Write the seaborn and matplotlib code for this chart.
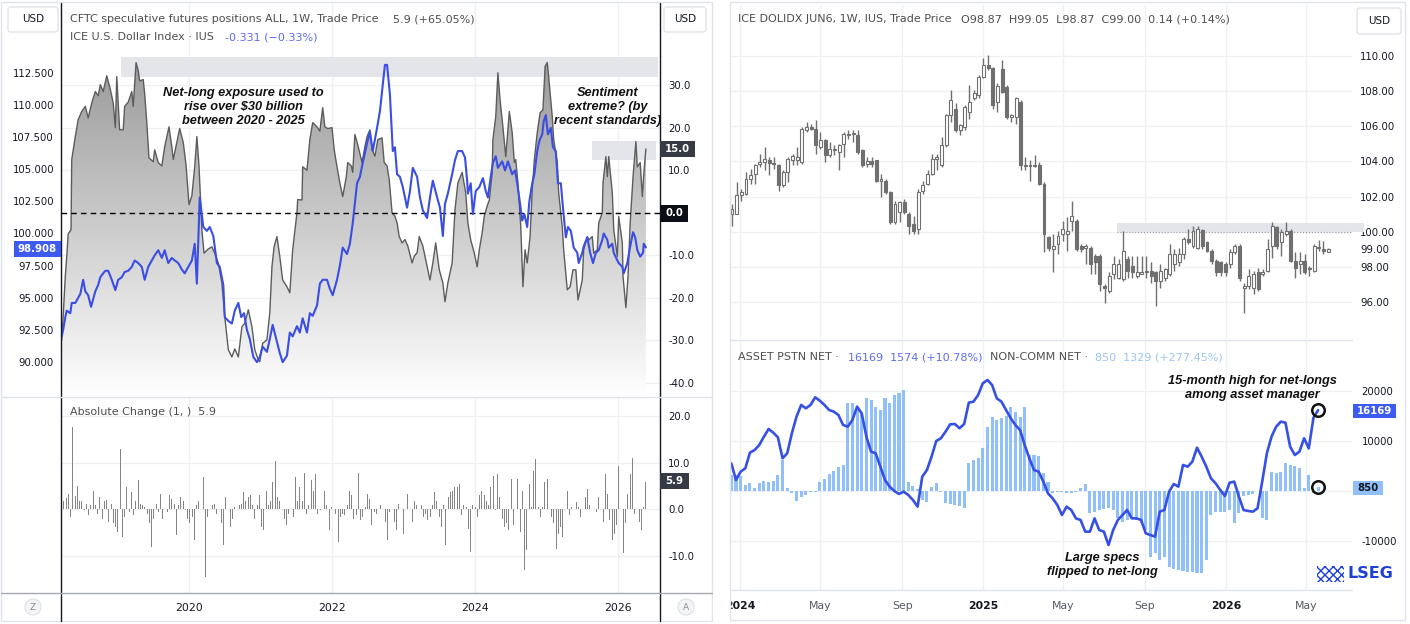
import numpy as np
import pandas as pd
import matplotlib
matplotlib.use("Agg")
import matplotlib.pyplot as plt
import matplotlib.dates as mdates
from matplotlib.patches import Rectangle, FancyBboxPatch, Polygon, Circle
from matplotlib.lines import Line2D
from matplotlib.colors import LinearSegmentedColormap
from matplotlib.transforms import Affine2D
import seaborn as sns

W, H = 1410, 624

# ---------------- left chart: CFTC net positions (USD bn) and ICE dollar index ----------------
cftc_t = [2018.22, 2018.24, 2018.27, 2018.29, 2018.31, 2018.35, 2018.36, 2018.41, 2018.45, 2018.50,
          2018.55, 2018.59, 2018.64, 2018.69, 2018.73, 2018.76, 2018.80, 2018.85, 2018.90, 2018.94,
          2018.97, 2018.99, 2019.03, 2019.08, 2019.10, 2019.15, 2019.20, 2019.22, 2019.26, 2019.29,
          2019.31, 2019.36, 2019.38, 2019.41, 2019.44, 2019.50, 2019.52, 2019.57, 2019.62, 2019.66,
          2019.72, 2019.76, 2019.78, 2019.83, 2019.87, 2019.92, 2019.96, 2020.00, 2020.04, 2020.08,
          2020.11, 2020.14, 2020.18, 2020.21, 2020.27, 2020.32, 2020.36, 2020.41, 2020.46, 2020.50,
          2020.55, 2020.60, 2020.64, 2020.69, 2020.74, 2020.78, 2020.83, 2020.88, 2020.92, 2020.97,
          2020.99, 2021.03, 2021.09, 2021.13, 2021.16, 2021.19, 2021.23, 2021.27, 2021.31, 2021.37,
          2021.41, 2021.45, 2021.51, 2021.52, 2021.58, 2021.59, 2021.65, 2021.69, 2021.73, 2021.79,
          2021.83, 2021.87, 2021.90, 2021.94, 2022.00, 2022.03, 2022.07, 2022.11, 2022.15, 2022.20,
          2022.22, 2022.27, 2022.29, 2022.32, 2022.36, 2022.42, 2022.46, 2022.49, 2022.53, 2022.56,
          2022.60, 2022.64, 2022.70, 2022.73, 2022.77, 2022.80, 2022.84, 2022.88, 2022.91, 2022.94,
          2022.98, 2023.02, 2023.06, 2023.12, 2023.15, 2023.19, 2023.22, 2023.27, 2023.31, 2023.37,
          2023.41, 2023.45, 2023.50, 2023.55, 2023.58, 2023.62, 2023.68, 2023.72, 2023.76, 2023.82,
          2023.87, 2023.90, 2023.94, 2023.99, 2024.03, 2024.06, 2024.10, 2024.13, 2024.17, 2024.20,
          2024.24, 2024.25, 2024.29, 2024.32, 2024.35, 2024.39, 2024.43, 2024.48, 2024.52, 2024.55,
          2024.57, 2024.60, 2024.64, 2024.67, 2024.70, 2024.73, 2024.77, 2024.80, 2024.83, 2024.87,
          2024.91, 2024.95, 2024.98, 2025.01, 2025.03, 2025.08, 2025.10, 2025.15, 2025.17, 2025.22,
          2025.24, 2025.29, 2025.33, 2025.37, 2025.41, 2025.44, 2025.50, 2025.52, 2025.57, 2025.59,
          2025.64, 2025.66, 2025.71, 2025.73, 2025.78, 2025.79, 2025.83, 2025.85, 2025.87, 2025.92,
          2025.94, 2025.99, 2026.01, 2026.06, 2026.07, 2026.11, 2026.14, 2026.17, 2026.20, 2026.21,
          2026.25, 2026.27, 2026.31, 2026.34, 2026.36, 2026.39]
cftc_v = [-29.9, -24.5, -15.0, -10.4, -5.0, -4.0, 12.5, 17.9, 21.9, 23.8,
          25.0, 22.3, 25.8, 28.5, 27.5, 30.1, 28.5, 32.2, 29.0, 25.8,
          20.0, 32.0, 19.5, 19.5, 25.0, 26.0, 28.5, 25.0, 35.3, 33.4,
          31.0, 31.3, 28.0, 21.2, 12.9, 12.0, 14.8, 11.8, 11.0, 15.5,
          20.2, 15.5, 12.5, 16.5, 19.8, 16.5, 11.0, 1.9, 4.0, 10.8,
          17.9, 11.0, -4.0, -9.5, -8.5, -8.0, -9.5, -11.8, -16.5, -24.4,
          -32.2, -33.9, -32.0, -33.9, -26.8, -26.0, -22.8, -26.8, -32.2, -34.6,
          -35.0, -30.7, -29.9, -23.5, -12.7, -8.0, -5.6, -10.3, -15.8, -17.4,
          -18.8, -8.7, 0.0, 3.1, 3.0, 10.8, 10.0, 17.2, 21.2, 20.2,
          19.2, 24.7, 20.2, 19.8, 20.0, 14.9, 10.8, 7.0, 3.8, 8.5,
          11.8, 11.0, 9.5, 18.4, 16.0, 11.8, 15.5, 17.9, 19.5, 14.9,
          13.3, 17.2, 17.6, 11.8, 11.0, 7.8, 0.0, -0.8, -2.4, -5.6,
          -7.1, -6.3, -7.8, -11.8, -10.2, -9.4, -5.6, -7.8, -11.0, -15.8,
          -11.8, -7.1, -13.4, -16.5, -20.9, -16.5, -11.8, 0.7, 7.0, 9.5,
          4.7, -2.4, -6.4, -9.5, -12.7, -8.7, -4.7, -0.8, 1.6, 3.0,
          9.4, 17.2, 22.6, 32.9, 26.6, 20.2, 13.2, 23.8, 18.8, 11.8,
          12.5, 7.0, -3.3, -17.4, -8.7, -11.8, -5.6, 5.4, 12.5, 18.8,
          23.5, 24.2, 34.4, 35.3, 32.0, 22.6, 17.2, 11.8, 4.7, -3.3,
          -8.7, -18.1, -17.4, -13.4, -13.4, -20.5, -15.8, -8.7, -5.6, -6.4,
          -5.6, -9.5, -8.7, -2.4, 0.0, 7.0, 13.2, 8.5, 13.2, 4.7,
          -4.0, -10.3, -0.9, -7.1, -15.0, -22.3, -15.0, -2.4, 6.1, 8.5,
          16.7, 10.8, 11.8, 3.8, 9.1, 15.0]

usd_t = [2018.22, 2018.24, 2018.27, 2018.29, 2018.34, 2018.36, 2018.41, 2018.45, 2018.48, 2018.52,
         2018.55, 2018.59, 2018.63, 2018.69, 2018.73, 2018.76, 2018.80, 2018.83, 2018.87, 2018.92,
         2018.97, 2019.01, 2019.06, 2019.10, 2019.15, 2019.20, 2019.24, 2019.29, 2019.34, 2019.38,
         2019.43, 2019.48, 2019.52, 2019.57, 2019.62, 2019.66, 2019.71, 2019.76, 2019.80, 2019.85,
         2019.90, 2019.94, 2019.99, 2020.04, 2020.08, 2020.11, 2020.15, 2020.20, 2020.25, 2020.29,
         2020.34, 2020.39, 2020.43, 2020.48, 2020.50, 2020.55, 2020.60, 2020.64, 2020.69, 2020.73,
         2020.77, 2020.81, 2020.85, 2020.90, 2020.95, 2020.99, 2021.03, 2021.09, 2021.13, 2021.17,
         2021.22, 2021.27, 2021.31, 2021.37, 2021.41, 2021.45, 2021.51, 2021.55, 2021.59, 2021.65,
         2021.69, 2021.73, 2021.79, 2021.83, 2021.87, 2021.93, 2021.97, 2022.01, 2022.07, 2022.11,
         2022.15, 2022.21, 2022.25, 2022.29, 2022.35, 2022.39, 2022.43, 2022.49, 2022.53, 2022.57,
         2022.63, 2022.67, 2022.71, 2022.74, 2022.77, 2022.81, 2022.85, 2022.88, 2022.91, 2022.95,
         2022.99, 2023.05, 2023.09, 2023.13, 2023.19, 2023.23, 2023.27, 2023.33, 2023.37, 2023.41,
         2023.47, 2023.51, 2023.55, 2023.58, 2023.62, 2023.68, 2023.72, 2023.76, 2023.82, 2023.86,
         2023.89, 2023.90, 2023.94, 2023.97, 2024.01, 2024.06, 2024.11, 2024.15, 2024.18, 2024.22,
         2024.25, 2024.29, 2024.32, 2024.38, 2024.42, 2024.46, 2024.52, 2024.56, 2024.59, 2024.63,
         2024.66, 2024.69, 2024.73, 2024.76, 2024.80, 2024.83, 2024.87, 2024.90, 2024.94, 2024.96,
         2024.99, 2025.02, 2025.06, 2025.09, 2025.13, 2025.16, 2025.20, 2025.23, 2025.27, 2025.30,
         2025.34, 2025.38, 2025.43, 2025.45, 2025.50, 2025.52, 2025.57, 2025.61, 2025.65, 2025.69,
         2025.73, 2025.78, 2025.80, 2025.85, 2025.87, 2025.92, 2025.94, 2025.99, 2026.01, 2026.06,
         2026.08, 2026.13, 2026.17, 2026.21, 2026.24, 2026.27, 2026.31, 2026.35, 2026.36, 2026.39]
usd_v = [92.0, 92.5, 93.5, 94.0, 93.8, 94.6, 94.6, 95.0, 95.3, 96.4,
         95.5, 95.2, 94.3, 95.5, 96.0, 96.6, 96.9, 97.1, 97.1, 96.4,
         95.6, 96.4, 96.6, 97.0, 97.1, 97.4, 97.9, 97.7, 97.4, 96.4,
         97.4, 97.9, 98.3, 98.7, 98.1, 98.7, 97.7, 98.1, 97.9, 97.7,
         97.2, 96.9, 97.4, 97.9, 99.2, 96.1, 102.8, 100.5, 100.2, 100.5,
         99.8, 97.7, 97.4, 96.0, 93.5, 93.2, 93.0, 94.0, 94.6, 93.5,
         93.8, 92.5, 91.8, 90.4, 90.0, 90.4, 91.2, 90.8, 91.8, 92.9,
         91.8, 90.7, 90.0, 90.5, 92.3, 92.0, 92.8, 92.3, 93.4, 92.3,
         93.8, 93.6, 94.4, 96.1, 96.4, 96.4, 95.7, 95.2, 96.4, 97.5,
         98.9, 98.4, 99.2, 100.8, 103.9, 104.4, 105.5, 107.0, 107.9, 106.4,
         108.2, 109.5, 111.6, 113.1, 113.1, 110.8, 106.4, 106.7, 104.6, 104.4,
         103.6, 102.0, 103.3, 105.1, 104.4, 102.8, 101.8, 101.2, 102.8, 104.1,
         102.8, 102.0, 99.8, 102.3, 103.1, 104.6, 105.7, 106.4, 106.4, 105.9,
         104.1, 103.1, 103.9, 101.5, 103.3, 103.6, 104.3, 103.3, 102.8, 104.4,
         105.5, 106.0, 105.1, 105.6, 104.9, 105.6, 104.6, 104.9, 103.9, 102.3,
         101.0, 101.5, 100.5, 102.5, 103.9, 104.6, 106.4, 107.2, 107.7, 108.7,
         109.2, 107.7, 108.2, 106.7, 106.4, 103.9, 103.9, 102.0, 99.7, 100.5,
         100.2, 98.9, 98.5, 97.7, 98.5, 99.0, 99.7, 98.5, 97.7, 98.5,
         98.7, 99.5, 100.0, 99.5, 98.9, 99.2, 98.5, 97.9, 97.7, 97.4,
         96.9, 97.7, 99.0, 100.1, 99.7, 98.7, 98.2, 98.5, 99.2, 98.908]

# weekly absolute change of the CFTC net position
abs_chg = [5.8, 1.9, 2.5, 3.3, -1.6, 17.7, 2.8, 5.1, 1.9, 1.9, -0.2, 1.2, -1.3, 0.9, 4.0, 0.9, -0.9, 2.6,
           -2.0, 1.9, 2.1, -2.7, 1.2, -3.0, -3.8, -4.8, 12.9, -5.9, -1.6, 4.9, -0.6, 3.7, -1.3, 1.9, 6.2,
           1.2, 0.9, 0.5, -0.9, -3.0, -8.0, -2.0, 1.2, -0.6, 3.3, -2.0, 0.1, -0.6, 3.0, 2.3, 1.2, -5.5, 0.9,
           2.6, 1.9, -0.2, -2.0, -3.0, -1.6, -6.6, 0.9, 1.9, 1.6, 6.9, -14.4, -1.6, -0.6, 0.9, 1.2, -0.9,
           -2.0, -3.0, -7.7, 2.6, -2.3, -3.8, -2.0, 0.5, 0.9, 0.9, 1.2, 3.7, 1.9, 2.6, 3.0, 0.9, -2.0, 0.9,
           3.0, -3.8, -4.5, 4.0, 0.9, 1.9, 5.8, 10.4, 2.6, 1.9, 0.1, -2.0, -3.4, -0.9, 0.1, -1.6, 6.9, 1.9,
           4.8, 1.9, 7.9, -0.9, 0.9, 6.2, 4.0, 7.6, -0.9, -0.2, 0.1, 4.0, 0.9, -4.5, 0.5, 0.1, -0.9, -7.0,
           -1.6, -0.9, -1.3, 0.9, 4.0, 3.0, -2.0, -1.3, 7.9, -2.3, -1.6, 0.5, 3.3, 2.3, -3.4, -0.6, -0.9,
           0.1, 0.9, 1.2, -2.7, -6.6, -0.6, -1.6, -2.7, -4.5, 1.2, -3.4, -5.2, 0.1, 3.3, -2.0, -2.7, 1.9,
           0.9, 4.4, 0.9, -1.6, -0.9, -2.3, -1.6, 0.9, 3.7, 1.9, -1.6, -3.8, 0.9, -7.7, 2.6, 3.7, 4.0, 4.8,
           4.8, 5.5, -1.3, 0.9, 0.5, -4.1, -9.1, 0.9, 0.5, -1.6, 3.0, 4.0, 3.0, 1.9, 0.9, 4.8, 7.2, -0.2,
           7.6, 2.6, -2.0, -3.8, -3.0, -4.5, 6.5, -3.4, 0.1, 6.5, -4.8, 4.0, -13.0, -8.7, 5.5, 0.5, 8.3,
           10.8, 0.5, -1.6, 0.5, 5.8, 6.5, 0.1, -1.6, -3.0, -8.4, -5.2, -3.8, -5.9, -4.5, 4.0, -1.3, 0.5,
           2.6, 1.6, 0.5, -1.6, 3.7, 2.6, 4.4, 0.9, -1.3, 0.1, -0.6, 2.6, 4.0, -2.7, 7.6, 3.3, -2.3, -6.6,
           -5.2, -3.4, 9.4, 0.1, -9.4, -3.0, 3.3, 7.6, 11.1, -0.9, 0.1, -2.7, -4.5, 0.5, 5.9]

# ---------------- right chart: ICE DOLIDX weekly candles ----------------
dx_open = [101.01, 101.01, 102.06, 102.15, 103.01, 103.30, 103.87, 103.96, 104.10, 103.90,
           103.77, 102.63, 103.39, 104.10, 104.06, 103.96, 105.77, 105.96, 105.87, 104.82,
           105.20, 104.34, 104.72, 104.53, 105.01, 105.58, 105.54, 105.49, 104.63, 103.87,
           104.00, 104.06, 102.91, 102.91, 102.25, 100.53, 101.10, 101.68, 101.01, 100.44,
           100.15, 102.34, 102.72, 103.30, 104.15, 103.77, 104.91, 106.63, 107.01, 105.77,
           105.96, 106.82, 107.58, 107.77, 108.82, 109.49, 109.30, 107.39, 109.24, 108.25,
           106.53, 106.53, 107.39, 103.73, 103.80, 103.73, 103.77, 102.72, 99.68, 99.01,
           99.30, 99.87, 99.87, 100.63, 100.63, 99.20, 99.10, 99.10, 98.63, 98.63,
           96.91, 96.63, 97.58, 97.39, 97.30, 98.44, 98.06, 97.49, 97.58, 97.68,
           97.77, 97.68, 97.20, 97.39, 97.58, 98.15, 98.25, 98.72, 99.58, 99.20,
           99.10, 100.10, 99.39, 98.91, 98.34, 98.25, 98.15, 98.15, 98.82, 99.20,
           96.82, 96.91, 96.82, 97.68, 97.58, 97.77, 99.20, 100.25, 99.39, 99.87,
           100.06, 98.34, 98.15, 98.34, 97.96, 97.77, 99.10, 99.01, 98.87]
dx_high = [101.58, 102.82, 102.44, 103.39, 103.58, 103.87, 104.44, 104.82, 104.25, 104.25,
           103.87, 103.49, 104.25, 104.44, 104.82, 105.96, 106.25, 106.15, 106.34, 105.68,
           105.30, 105.10, 104.91, 105.01, 105.68, 105.77, 105.77, 105.77, 104.72, 104.25,
           104.25, 104.10, 103.30, 103.01, 102.34, 101.77, 101.77, 101.87, 101.10, 100.91,
           102.44, 102.91, 103.49, 104.44, 104.44, 105.39, 106.72, 108.06, 107.30, 106.15,
           107.20, 108.34, 108.06, 108.91, 109.87, 110.06, 109.39, 108.44, 109.77, 108.34,
           106.72, 107.68, 107.49, 104.25, 104.06, 104.34, 103.96, 102.82, 99.77, 99.87,
           100.06, 100.63, 100.82, 101.77, 100.72, 99.30, 99.30, 99.20, 98.72, 98.72,
           97.01, 97.68, 98.63, 98.44, 100.06, 98.63, 98.63, 98.63, 98.63, 98.63,
           98.25, 97.77, 98.15, 97.96, 99.30, 99.01, 99.10, 99.68, 100.15, 100.34,
           100.34, 100.15, 99.49, 99.01, 98.44, 98.34, 98.25, 99.01, 99.30, 99.30,
           97.10, 97.87, 97.77, 97.96, 97.87, 99.58, 100.53, 100.34, 100.15, 100.53,
           100.15, 98.82, 98.82, 98.72, 98.06, 99.30, 99.52, 99.49, 99.05]
dx_low = [100.34, 101.01, 101.77, 102.06, 102.72, 102.72, 103.68, 103.49, 103.20, 103.58,
          102.34, 102.53, 102.82, 103.77, 103.77, 103.87, 105.68, 105.77, 104.44, 104.72,
          103.96, 104.25, 104.34, 103.49, 104.25, 105.30, 105.10, 104.44, 103.68, 103.68,
          103.68, 102.82, 101.96, 102.15, 100.44, 100.44, 100.53, 101.01, 99.87, 99.87,
          99.87, 102.15, 102.63, 103.20, 103.49, 103.68, 104.82, 106.25, 105.68, 105.49,
          105.77, 106.44, 107.49, 107.58, 108.72, 109.20, 107.01, 106.82, 107.87, 106.44,
          106.25, 106.15, 103.49, 103.49, 102.91, 103.68, 102.63, 98.82, 98.91, 97.68,
          98.72, 99.49, 98.91, 100.06, 98.91, 98.82, 98.15, 97.58, 97.58, 96.63,
          95.96, 96.53, 97.30, 97.30, 97.20, 97.39, 97.39, 97.39, 97.58, 97.39,
          97.10, 95.77, 96.82, 97.20, 97.49, 97.77, 98.06, 98.44, 99.30, 99.10,
          99.01, 99.01, 98.82, 98.15, 97.49, 97.49, 97.49, 97.96, 98.72, 97.20,
          95.39, 96.72, 96.44, 96.63, 97.49, 97.68, 98.53, 99.01, 98.63, 99.77,
          98.25, 97.39, 97.58, 97.58, 97.49, 97.68, 98.91, 98.72, 98.87]
dx_close = [101.30, 102.06, 102.25, 103.01, 103.20, 103.77, 103.96, 104.15, 103.90, 103.83,
            102.63, 103.39, 104.15, 104.29, 104.25, 105.87, 105.96, 105.87, 104.91, 105.20,
            104.34, 104.72, 104.63, 104.91, 105.58, 105.49, 105.62, 104.53, 103.77, 104.00,
            103.87, 102.91, 102.97, 102.25, 100.53, 101.58, 101.68, 101.10, 100.34, 100.06,
            102.25, 102.63, 103.30, 104.15, 104.25, 104.91, 106.63, 107.49, 105.77, 106.06,
            107.10, 107.39, 107.87, 108.82, 109.49, 109.30, 107.20, 108.29, 107.96, 106.53,
            106.63, 107.58, 103.77, 103.80, 103.73, 103.80, 102.72, 99.87, 99.10, 99.20,
            99.77, 100.15, 100.06, 100.91, 99.01, 99.01, 99.20, 98.15, 98.25, 97.01,
            96.82, 97.49, 98.15, 98.15, 98.91, 97.77, 97.68, 97.68, 97.68, 97.77,
            97.49, 97.20, 97.77, 97.87, 98.72, 98.72, 98.72, 99.58, 99.39, 100.06,
            100.15, 99.20, 98.91, 98.34, 97.68, 97.68, 97.68, 98.82, 99.20, 97.39,
            96.91, 97.49, 97.58, 96.72, 97.68, 99.01, 100.34, 99.20, 99.96, 100.06,
            98.34, 97.96, 98.34, 97.68, 97.87, 99.20, 99.14, 98.91, 99.00]

# ---------------- right chart: COT positioning (contracts) ----------------
asset_net = [5530, 2200, 3870, 4540, 7670, 8200, 9200, 10870, 12400, 11670,
             10740, 6540, 7540, 11540, 14870, 17200, 16540, 17200, 18740, 18070,
             17200, 16200, 15870, 15200, 13200, 12870, 14200, 16870, 15540, 10870,
             7870, 7540, 4870, 2200, 870, 0, -600, -130, -800, -1800,
             -3130, 2870, 4200, 6870, 10000, 10540, 11870, 13340, 13400, 12540,
             13400, 17670, 17870, 19200, 21540, 22200, 21200, 18540, 17870, 16200,
             14540, 13200, 12200, 9200, 6540, 4200, 3870, 1870, -470, -1470,
             -2800, -4800, -3130, -3800, -5470, -5800, -8130, -8130, -5470, -7800,
             -8130, -10800, -7800, -5800, -4800, -3800, -5470, -5470, -5800, -8470,
             -8800, -9130, -4130, -3800, -130, 1400, 870, 5200, 4870, 5870,
             8670, 6870, 4870, 2530, 1530, 200, -1000, 1670, 1870, -1130,
             -3800, -4000, -4130, -3470, 1870, 7530, 10870, 12870, 13870, 13670,
             8870, 7200, 7870, 10540, 8530, 14595, 16169]
noncomm_net = [3200, 3200, 2900, 1200, 1500, 530, 1500, 2000, 1700, 2000,
               3200, 6200, 530, -470, -1930, -1130, -800, -270, -130, 1730,
               2400, 3400, 4070, 4730, 5200, 17540, 17540, 16870, 15540, 18540,
               18200, 16870, 16200, 18540, 17540, 19200, 19670, 20200, 1730, 1070,
               330, -1800, -2130, 870, 1530, -130, -2470, -2670, -2800, -2930,
               -3330, 5670, 6200, 6670, 8540, 12740, 14740, 14200, 14540, 15000,
               16740, 15870, 14740, 16740, 7200, 7200, 7000, 3530, 1730, -330,
               -130, -130, -470, -330, -130, 530, 1400, -4470, -4130, -3800,
               -3600, -3470, -3800, -5470, -6130, -5800, -5470, -5800, -6470, -7800,
               -13140, -12470, -13800, -13140, -15140, -15670, -15800, -16000, -16140, -16270,
               -16340, -16340, -13800, -4800, -4130, -4130, -4130, -3800, -6470, -4330,
               -930, -800, -600, 70, -5470, -5800, 3730, 3530, 3870, 5540,
               5200, 5070, 4670, 530, 3200, -479, 850]

dx_dates = pd.date_range(end="2026-06-03", periods=len(dx_close), freq="7D")
cot_dates = pd.date_range(end="2026-05-19", periods=len(asset_net), freq="7D")
chg_t = np.linspace(cftc_t[0], cftc_t[-1], len(abs_chg))

# ---------------- style ----------------
sns.set_theme(style="white")
plt.rcParams["font.family"] = ["DejaVu Sans"]

TXT = "#4f4f4f"
DARK = "#131722"
GRID = "#eef0f4"
BORDER = "#e0e3eb"
BLUE = "#3b4ee2"
BAR_BLUE = "#90bff9"
HDR = 8.0
ANN = dict(fontfamily="Liberation Sans", fontweight="bold", fontstyle="italic",
           fontsize=9.2, color="#111111", ha="center", va="center", linespacing=1.25)

fig = plt.figure(figsize=(W / 100, H / 100), dpi=100)
fig.patch.set_facecolor("white")
px = Affine2D().scale(1 / W, 1 / H) + fig.transFigure


def rect(x0, y0, x1, y1):
    return [x0 / W, 1 - y1 / H, (x1 - x0) / W, (y1 - y0) / H]


def T(x, y, s, **kw):
    kw.setdefault("va", "center")
    return fig.text(x / W, 1 - y / H, s, **kw)


def seg(x0, y0, x1, y1, color, lw=1.0, z=15):
    fig.add_artist(Line2D([x0, x1], [H - y0, H - y1], color=color, lw=lw, transform=px, zorder=z))


def value_box(x0, y0, x1, y1, s, fc, tc="white", fs=7.3):
    fig.add_artist(Rectangle((x0, H - y1), x1 - x0, y1 - y0, fc=fc, ec="none", transform=px, zorder=20))
    T((x0 + x1) / 2, (y0 + y1) / 2, s, color=tc, fontsize=fs, ha="center", fontweight="bold", zorder=21)


def usd_box(x0, y0, x1, y1):
    fig.add_artist(FancyBboxPatch((x0, H - y1), x1 - x0, y1 - y0,
                                  boxstyle="round,pad=0,rounding_size=3", fc="white", ec=BORDER,
                                  lw=1, transform=px, zorder=20))
    T((x0 + x1) / 2, (y0 + y1) / 2, "USD", color=DARK, fontsize=7.5, ha="center", zorder=21)


def clean(ax):
    for s in ax.spines.values():
        s.set_visible(False)
    ax.set_facecolor("none")


# panel frames
fig.add_artist(Rectangle((1, H - 621), 711, 619, fill=False, ec=BORDER, lw=1, transform=px))
fig.add_artist(Rectangle((730, H - 620), 675, 618, fill=False, ec=BORDER, lw=1, transform=px))

# ================= LEFT TOP =================
XL = (2018.21, 2026.587)
ax_c = fig.add_axes(rect(61, 3, 660, 397))
clean(ax_c)
base = -43.3
for v in [30, 20, 10, -10, -20, -30, -40]:
    ax_c.axhline(v, color=GRID, lw=1, zorder=0)
for yr in [2020, 2022, 2024, 2026]:
    ax_c.axvline(yr, color=GRID, lw=1, zorder=0)
ax_c.add_patch(Rectangle((2019.05, 31.8), 2026.56 - 2019.05, 4.7, fc="#e3e5eb", ec="none", zorder=0.5))
ax_c.add_patch(Rectangle((2025.636, 12.5), 2026.531 - 2025.636, 4.4, fc="#e3e5eb", ec="none", zorder=0.5))

verts = [(cftc_t[0], base)] + list(zip(cftc_t, cftc_v)) + [(cftc_t[-1], base)]
clip = Polygon(verts, closed=True, transform=ax_c.transData, fc="none", ec="none")
ax_c.add_patch(clip)
grad = np.linspace(0, 1, 256).reshape(-1, 1)
fade = LinearSegmentedColormap.from_list("fade", ["#ffffff", "#9a9a9a"])
im = ax_c.imshow(grad, extent=[cftc_t[0], cftc_t[-1], base, 36.0], origin="lower",
                 aspect="auto", cmap=fade, zorder=1, interpolation="bilinear")
im.set_clip_path(clip)
sns.lineplot(x=cftc_t, y=cftc_v, ax=ax_c, color="#5c5c5c", lw=1.0, estimator=None, sort=False, zorder=3)
ax_c.axhline(0, color="black", lw=1, ls=(0, (4, 3)), zorder=4)

ax_u = ax_c.twinx()
clean(ax_u)
sns.lineplot(x=usd_t, y=usd_v, ax=ax_u, color=BLUE, lw=1.5, estimator=None, sort=False, zorder=5)

# the twin flips the original's ticks to the left, so place both sides afterwards
ax_c.set_xlim(*XL)
ax_c.set_ylim(base, 49.3)
ax_c.yaxis.tick_right()
ax_c.yaxis.set_label_position("right")
cticks = [30, 20, 10, -10, -20, -30, -40]
ax_c.set_yticks(cticks)
ax_c.set_yticklabels([f"{v:.1f}" for v in cticks])
ax_c.tick_params(axis="y", length=0, pad=6, labelsize=7.3, labelcolor=DARK,
                 left=False, labelleft=False, right=True, labelright=True)
ax_c.set_xticks([])
ax_c.set_xlabel("")
ax_c.set_ylabel("")

ax_u.set_xlim(*XL)
ax_u.set_ylim(87.29, 117.91)
ax_u.yaxis.tick_left()
ax_u.yaxis.set_label_position("left")
uticks = [112.5, 110, 107.5, 105, 102.5, 100, 97.5, 95, 92.5, 90]
ax_u.set_yticks(uticks)
ax_u.set_yticklabels([f"{v:.3f}" for v in uticks])
ax_u.tick_params(axis="y", length=0, pad=5, labelsize=7.3, labelcolor=DARK,
                 right=False, labelright=False, left=True, labelleft=True)
ax_u.set_ylabel("")

T(243, 107, "Net-long exposure used to\nrise over $30 billion\nbetween 2020 - 2025", **ANN)
T(608, 107, "Sentiment\nextreme? (by\nrecent standards)", **ANN)

T(70, 19, "CFTC speculative futures positions ALL, 1W, Trade Price", color=TXT, fontsize=HDR)
T(393, 19, "5.9 (+65.05%)", color=TXT, fontsize=HDR)
T(70, 37, "ICE U.S. Dollar Index \u00b7 IUS", color=TXT, fontsize=HDR)
T(225, 37, "-0.331 (\u22120.33%)", color="#5a6cf0", fontsize=HDR)

# ================= LEFT BOTTOM =================
ax_b = fig.add_axes(rect(61, 397, 660, 593))
clean(ax_b)
for v in [20, 10, 0, -10]:
    ax_b.axhline(v, color=GRID, lw=1, zorder=0)
for yr in [2020, 2022, 2024, 2026]:
    ax_b.axvline(yr, color=GRID, lw=1, zorder=0)
ax_b.bar(chg_t, abs_chg, width=0.013, color="#858585", lw=0, zorder=3)
ax_b.set_xlim(*XL)
ax_b.set_ylim(-17.9, 24.07)
ax_b.yaxis.tick_right()
ax_b.set_yticks([20, 10, 0, -10])
ax_b.set_yticklabels(["20.0", "10.0", "0.0", "-10.0"])
ax_b.tick_params(axis="y", length=0, pad=6, labelsize=7.3, labelcolor=DARK)
ax_b.set_xticks([2020, 2022, 2024, 2026])
ax_b.set_xticklabels(["2020", "2022", "2024", "2026"])
ax_b.tick_params(axis="x", length=0, pad=7, labelsize=7.8, labelcolor=DARK)
T(70, 412, "Absolute Change (1, )  5.9", color=TXT, fontsize=HDR)

# left pane frame lines
seg(61, 3, 61, 621, "#131722", 1)
seg(660, 3, 660, 621, "#131722", 1)
seg(1, 397, 712, 397, BORDER, 1)
seg(1, 593, 712, 593, "#a6a9b1", 1)
for cx, s in [(33, "Z"), (686, "A")]:
    fig.add_artist(Circle((cx, H - 607), 8, fc="#f3f4f7", ec="#e3e5ea", lw=1, transform=px, zorder=20))
    T(cx, 607, s, color="#8a8d96", fontsize=6.5, ha="center", zorder=21)

usd_box(8, 7, 58, 32)
usd_box(664, 7, 706, 32)
value_box(14, 241, 61, 257, "98.908", "#3d5af1")
value_box(660, 141, 695, 157, "15.0", "#363a45")
value_box(660, 205, 688, 222, "0.0", "#0c0e15")
value_box(660, 473, 689, 489, "5.9", "#363a45")

# ================= RIGHT TOP (candles) =================
XR = (pd.Timestamp("2023-12-18 12:00"), pd.Timestamp("2026-07-09"))
month_ticks = pd.to_datetime(["2024-01-01", "2024-05-01", "2024-09-01", "2025-01-01",
                              "2025-05-01", "2025-09-01", "2026-01-01", "2026-05-01"])
month_labels = ["2024", "May", "Sep", "2025", "May", "Sep", "2026", "May"]

ax_p = fig.add_axes(rect(731, 5, 1352, 338))
clean(ax_p)
for v in [110, 108, 106, 104, 102, 100, 98, 96]:
    ax_p.axhline(v, color=GRID, lw=1, zorder=0)
for d in month_ticks:
    ax_p.axvline(d, color=GRID, lw=1, zorder=0)

o = np.array(dx_open)
c = np.array(dx_close)
up = c >= o
body_lo = np.minimum(o, c)
body_h = np.maximum(np.abs(c - o), 0.04)
CANDLE = "#6f6f6f"
ax_p.vlines(dx_dates, dx_low, dx_high, color=CANDLE, lw=1, zorder=2)
ax_p.bar(dx_dates, body_h, bottom=body_lo, width=4.4,
         color=np.where(up, "white", CANDLE), edgecolor=CANDLE, linewidth=0.8, zorder=3)

b0 = mdates.date2num(pd.Timestamp("2025-07-20"))
b1 = mdates.date2num(pd.Timestamp("2026-07-27"))
ax_p.add_patch(Rectangle((b0, 100.0), b1 - b0, 0.51, fc="#e3e5eb", ec="none", zorder=1, clip_on=False))
ax_p.hlines(100.0, b0, mdates.date2num(XR[1]), colors="#9a9da6", linestyles=":", lw=0.8, zorder=1)
ax_p.set_xlim(*XR)
ax_p.set_ylim(93.95, 112.9)
ax_p.yaxis.tick_right()
pticks = [110, 108, 106, 104, 102, 100, 99, 98, 96]
ax_p.set_yticks(pticks)
ax_p.set_yticklabels([f"{v:.2f}" for v in pticks])
ax_p.tick_params(axis="y", length=0, pad=6, labelsize=7.3, labelcolor=DARK)
ax_p.set_xticks([])

T(738, 19, "ICE DOLIDX JUN6, 1W, IUS, Trade Price", color=TXT, fontsize=HDR)
T(961, 19, "O98.87  H99.05  L98.87  C99.00  0.14 (+0.14%)", color=TXT, fontsize=HDR)

# ================= RIGHT BOTTOM (COT) =================
ax_n = fig.add_axes(rect(731, 340, 1352, 590))
clean(ax_n)
for v in [20000, 10000, 0, -10000]:
    ax_n.axhline(v, color=GRID, lw=1, zorder=0)
for d in month_ticks:
    ax_n.axvline(d, color=GRID, lw=1, zorder=0)
ax_n.bar(cot_dates, noncomm_net, width=4.6, color=BAR_BLUE, lw=0, zorder=2)
sns.lineplot(x=cot_dates, y=asset_net, ax=ax_n, color="#3650e6", lw=1.9, estimator=None, zorder=3)
ax_n.plot(cot_dates[-1], asset_net[-1], "o", ms=9, mfc="none", mec="#111111", mew=1.8, zorder=5)
ax_n.plot(cot_dates[-1], noncomm_net[-1], "o", ms=9, mfc="none", mec="#111111", mew=1.8, zorder=5)
ax_n.set_xlim(*XR)
ax_n.set_ylim(-19800, 30200)
ax_n.yaxis.tick_right()
ax_n.set_yticks([20000, 10000, -10000])
ax_n.set_yticklabels(["20000", "10000", "-10000"])
ax_n.tick_params(axis="y", length=0, pad=7, labelsize=7.3, labelcolor=DARK)
ax_n.set_xticks(month_ticks)
ax_n.set_xticklabels(month_labels)
ax_n.tick_params(axis="x", length=0, pad=8, labelsize=7.8, labelcolor=DARK)
for lab in ax_n.get_xticklabels():
    if lab.get_text().isdigit():
        lab.set_fontweight("bold")
    else:
        lab.set_color("#555861")
ax_n.set_xlabel("")
ax_n.set_ylabel("")

T(738, 357, "ASSET PSTN NET \u00b7", color=TXT, fontsize=HDR)
T(848, 357, "16169  1574 (+10.78%)", color="#5a6cf0", fontsize=HDR)
T(990, 357, "NON-COMM NET \u00b7", color=TXT, fontsize=HDR)
T(1095, 357, "850  1329 (+277.45%)", color="#9cc4f3", fontsize=HDR)

T(1252, 388, "15-month high for net-longs\namong asset manager", **ANN)
T(1102, 565, "Large specs\nflipped to net-long", **ANN)

# LSEG mark
fig.add_artist(Rectangle((1317, H - 582), 27, 16, fc="none", ec="#1d3fd6", lw=0,
                         hatch="xxxx", transform=px, zorder=20))
T(1370, 573, "LSEG", color="#1d3fd6", fontsize=11.5, fontweight="bold", ha="center", zorder=21)

seg(731, 340, 1352, 340, BORDER, 1)
seg(731, 590, 1352, 590, BORDER, 1)
# clip the "2024" label at the panel edge like the source
fig.add_artist(Rectangle((713, H - 620), 16.5, 30, fc="white", ec="none", transform=px, zorder=25))

usd_box(1357, 8, 1401, 34)
value_box(1353, 404, 1396, 418, "16169", "#3d5af1")
value_box(1353, 481, 1383, 495, "850", BAR_BLUE, tc=DARK)

fig.savefig("out.png", dpi=100, facecolor="white")
